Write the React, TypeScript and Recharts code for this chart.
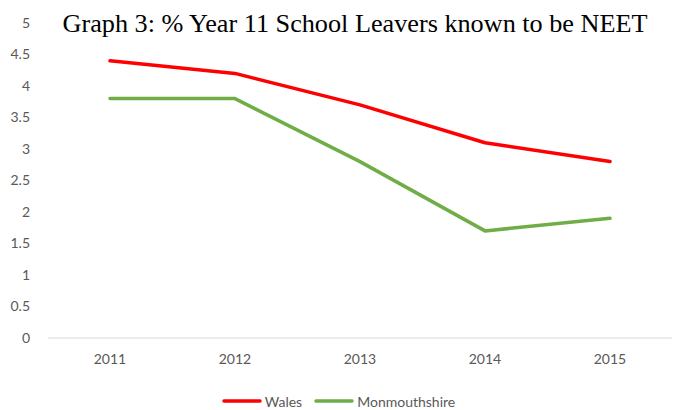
import React from "react";
import { LineChart, Line, XAxis, YAxis, Legend, Customized } from "recharts";

const years = ["2011", "2012", "2013", "2014", "2015"];
const wales = [4.4, 4.2, 3.7, 3.1, 2.8];
const monmouthshire = [3.8, 3.8, 2.8, 1.7, 1.9];
const yTicks = [0, 0.5, 1, 1.5, 2, 2.5, 3, 3.5, 4, 4.5, 5];
const title = "Graph 3: % Year 11 School Leavers known to be NEET";

const series = [
  { key: "Wales", color: "#ff0000" },
  { key: "Monmouthshire", color: "#70ad47" },
];

const data = years.map((y, i) => ({ year: y, Wales: wales[i], Monmouthshire: monmouthshire[i] }));

const FONT = "Lato, 'Open Sans', sans-serif";

const LegendContent = () => (
  <div style={{ display: "flex", justifyContent: "center", alignItems: "center", height: 20, fontFamily: FONT, fontSize: 14, color: "#595959" }}>
    {series.map((s, i) => (
      <div key={s.key} style={{ display: "flex", alignItems: "center", marginLeft: i ? 12 : 0 }}>
        <svg width={40} height={6} style={{ marginRight: 3 }}>
          <line x1={2} y1={3} x2={38} y2={3} stroke={s.color} strokeWidth={3.5} strokeLinecap="round" />
        </svg>
        <span>{s.key}</span>
      </div>
    ))}
  </div>
);

const Title = () => (
  <text
    x={355}
    y={32}
    textAnchor="middle"
    fontFamily="'Liberation Serif', 'DejaVu Serif', serif"
    fontSize={25}
    textLength={585}
    lengthAdjust="spacingAndGlyphs"
    fill="#000"
  >
    {title}
  </text>
);

export default function App() {
  return (
    <div style={{ position: "absolute", left: 0, top: 0, width: 677, height: 410, background: "#fff" }}>
      <LineChart width={677} height={410} data={data} margin={{ top: 23, right: 5, left: 8, bottom: 12 }}>
        <XAxis
          dataKey="year"
          height={40}
          padding={{ left: 62, right: 62 }}
          tickLine={false}
          axisLine={{ stroke: "#d9d9d9", strokeWidth: 1 }}
          tick={{ fill: "#595959", fontSize: 14, fontFamily: FONT }}
          tickMargin={10}
        />
        <YAxis
          width={40}
          domain={[0, 5]}
          ticks={yTicks}
          interval={0}
          axisLine={false}
          tickLine={false}
          tick={{ fill: "#595959", fontSize: 14, fontFamily: FONT }}
          tickMargin={12}
        />
        <Legend
          content={<LegendContent />}
          wrapperStyle={{ position: "absolute", top: 391, left: 0, width: 677, height: 20 }}
        />
        {series.map((s) => (
          <Line
            key={s.key}
            type="linear"
            dataKey={s.key}
            stroke={s.color}
            strokeWidth={3.5}
            strokeLinecap="round"
            strokeLinejoin="round"
            dot={false}
            activeDot={false}
            isAnimationActive={false}
          />
        ))}
        <Customized component={Title} />
      </LineChart>
    </div>
  );
}
